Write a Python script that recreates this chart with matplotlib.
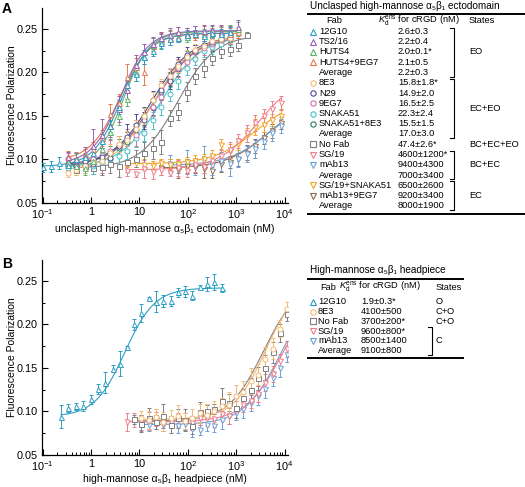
import numpy as np
import matplotlib
matplotlib.use('Agg')
import matplotlib.pyplot as plt
from matplotlib.lines import Line2D
from matplotlib.ticker import FixedLocator, FixedFormatter, MultipleLocator, FormatStrFormatter, NullFormatter

plt.rcParams['font.family'] = ['Liberation Sans', 'DejaVu Sans']
plt.rcParams['mathtext.fontset'] = 'custom'
plt.rcParams['mathtext.rm'] = 'Liberation Sans'
plt.rcParams['mathtext.it'] = 'Liberation Sans:italic'
plt.rcParams['mathtext.bf'] = 'Liberation Sans:bold'

# ---------------- data, panel A (ectodomain) ----------------
conc_a = [0.1, 0.15, 0.22, 0.33, 0.5, 0.74, 1.1, 1.7, 2.5, 3.7, 5.6, 8.4, 12.6, 19, 28, 42,
          64, 96, 144, 216, 324, 486, 730, 1090, 1640, 2460, 3690, 5540, 8300]

a_12g10 = [0.091, 0.092, 0.096, 0.094, 0.101, 0.103, 0.108, 0.121, 0.138, 0.160, 0.186, 0.198,
           0.218, 0.225, 0.234, 0.238, 0.240, 0.243, 0.244, 0.242, 0.245, 0.244, 0.246]
a_12g10_err = [0.005, 0.006, 0.007, 0.005, 0.006, 0.005, 0.006, 0.008, 0.007, 0.008, 0.009, 0.008,
               0.008, 0.006, 0.007, 0.006, 0.005, 0.006, 0.005, 0.006, 0.005, 0.006, 0.006]
a_ts216 = [0.103, 0.099, 0.104, 0.115, 0.128, 0.138, 0.158, 0.180, 0.208, 0.224, 0.233, 0.240,
           0.243, 0.246, 0.244, 0.247, 0.248, 0.249, 0.247, 0.246, 0.252]
a_ts216_err = [0.006, 0.008, 0.010, 0.020, 0.018, 0.012, 0.015, 0.010, 0.012, 0.009, 0.008, 0.007,
               0.008, 0.006, 0.007, 0.006, 0.007, 0.006, 0.008, 0.007, 0.008]
a_huts4 = [0.097, 0.093, 0.090, 0.098, 0.112, 0.132, 0.150, 0.170, 0.200, 0.218, 0.232, 0.236,
           0.243, 0.245, 0.241, 0.246, 0.244, 0.247, 0.245, 0.248, 0.250]
a_huts4_err = [0.006, 0.007, 0.008, 0.007, 0.008, 0.009, 0.010, 0.009, 0.010, 0.008, 0.007, 0.008,
               0.006, 0.007, 0.006, 0.007, 0.006, 0.006, 0.007, 0.006, 0.008]
a_huts4_9eg7 = [0.104, 0.102, 0.106, 0.112, 0.125, 0.152, 0.165, 0.195, 0.206, 0.200, 0.230, 0.238,
                0.240, 0.241, 0.244, 0.243, 0.246, 0.245, 0.247, 0.244, 0.246]
a_huts4_9eg7_err = [0.006, 0.007, 0.006, 0.008, 0.009, 0.012, 0.010, 0.015, 0.011, 0.014, 0.009, 0.007,
                    0.008, 0.006, 0.007, 0.006, 0.007, 0.006, 0.006, 0.007, 0.006]
a_8e3 = [0.085, 0.088, 0.092, 0.097, 0.098, 0.108, 0.118, 0.122, 0.135, 0.150, 0.168, 0.185,
         0.196, 0.207, 0.218, 0.226, 0.230, 0.236, 0.238, 0.240]
a_8e3_err = [0.005, 0.006, 0.008, 0.007, 0.009, 0.010, 0.009, 0.011, 0.010, 0.009, 0.010, 0.008,
             0.009, 0.007, 0.008, 0.007, 0.006, 0.007, 0.006, 0.006]
a_n29 = [0.095, 0.093, 0.098, 0.095, 0.103, 0.102, 0.115, 0.126, 0.140, 0.145, 0.168, 0.180,
         0.190, 0.210, 0.220, 0.225, 0.232, 0.235, 0.238, 0.241]
a_n29_err = [0.006, 0.007, 0.006, 0.008, 0.010, 0.009, 0.012, 0.015, 0.012, 0.010, 0.011, 0.010,
             0.009, 0.008, 0.009, 0.007, 0.008, 0.006, 0.007, 0.006]
a_9eg7 = [0.100, 0.092, 0.097, 0.101, 0.105, 0.110, 0.116, 0.125, 0.128, 0.148, 0.160, 0.172,
          0.195, 0.205, 0.212, 0.224, 0.228, 0.233, 0.237, 0.240]
a_9eg7_err = [0.007, 0.006, 0.008, 0.009, 0.020, 0.012, 0.011, 0.010, 0.013, 0.011, 0.010, 0.012,
              0.009, 0.010, 0.008, 0.007, 0.008, 0.007, 0.006, 0.007]
a_snaka51 = [0.090, 0.092, 0.095, 0.093, 0.097, 0.101, 0.104, 0.110, 0.125, 0.130, 0.145, 0.160,
             0.175, 0.190, 0.205, 0.215, 0.225, 0.229, 0.233, 0.238]
a_snaka51_err = [0.006, 0.008, 0.007, 0.010, 0.008, 0.009, 0.012, 0.010, 0.011, 0.009, 0.010, 0.009,
                 0.008, 0.009, 0.008, 0.007, 0.007, 0.008, 0.006, 0.007]
a_snaka51_8e3 = [0.093, 0.096, 0.094, 0.099, 0.101, 0.107, 0.113, 0.120, 0.134, 0.150, 0.160, 0.178,
                 0.192, 0.205, 0.218, 0.224, 0.230, 0.232, 0.236, 0.239]
a_snaka51_8e3_err = [0.005, 0.006, 0.007, 0.006, 0.008, 0.009, 0.010, 0.012, 0.011, 0.010, 0.009, 0.010,
                     0.008, 0.009, 0.007, 0.008, 0.006, 0.007, 0.006, 0.006]
a_nofab = [0.088, 0.093, 0.090, 0.091, 0.095, 0.092, 0.097, 0.101, 0.108, 0.113, 0.120, 0.148,
           0.155, 0.178, 0.196, 0.205, 0.216, 0.225, 0.227, 0.232, 0.243]
a_nofab_err = [0.006, 0.008, 0.007, 0.009, 0.010, 0.012, 0.011, 0.010, 0.012, 0.013, 0.014, 0.009,
               0.010, 0.011, 0.009, 0.010, 0.008, 0.009, 0.008, 0.007, 0.003]
a_sg19 = [0.087, 0.083, 0.089, 0.086, 0.088, 0.085, 0.090, 0.087, 0.094, 0.091, 0.098, 0.104,
          0.111, 0.121, 0.130, 0.142, 0.150, 0.158, 0.165]
a_sg19_err = [0.006, 0.003, 0.010, 0.008, 0.006, 0.004, 0.009, 0.007, 0.008, 0.006, 0.007, 0.008,
              0.009, 0.008, 0.010, 0.009, 0.008, 0.009, 0.008]
a_sg19_snaka = [0.095, 0.096, 0.094, 0.093, 0.096, 0.094, 0.095, 0.097, 0.098, 0.100, 0.104, 0.117,
                0.110, 0.118, 0.128, 0.137, 0.140, 0.145, 0.150]
a_sg19_snaka_err = [0.004, 0.005, 0.006, 0.005, 0.004, 0.006, 0.005, 0.006, 0.007, 0.006, 0.007, 0.006,
                    0.008, 0.007, 0.008, 0.009, 0.008, 0.007, 0.008]
a_mab13 = [0.095, 0.093, 0.097, 0.092, 0.100, 0.094, 0.098, 0.095, 0.101, 0.106, 0.112, 0.120,
           0.130, 0.138]
a_mab13_err = [0.010, 0.008, 0.014, 0.010, 0.015, 0.012, 0.011, 0.014, 0.010, 0.009, 0.010, 0.008,
               0.009, 0.008]
a_mab13_9eg7 = [0.090, 0.094, 0.088, 0.093, 0.091, 0.089, 0.087, 0.095, 0.097, 0.100, 0.108, 0.116,
                0.125, 0.133, 0.142]
a_mab13_9eg7_err = [0.008, 0.007, 0.009, 0.008, 0.007, 0.010, 0.008, 0.009, 0.007, 0.008, 0.009, 0.008,
                    0.007, 0.008, 0.007]

# fitted curves: bottom, top, K, Hill slope
fit_a = {
    '12G10': (0.092, 0.245, 4.2, 1.5), 'TS2/16': (0.095, 0.248, 4.0, 1.5),
    'HUTS4': (0.090, 0.247, 4.6, 1.6), 'HUTS4+9EG7': (0.098, 0.245, 4.0, 1.4),
    '8E3': (0.087, 0.242, 19, 1.05), 'N29': (0.092, 0.242, 18, 1.05),
    '9EG7': (0.093, 0.242, 21, 1.0), 'SNAKA51': (0.091, 0.242, 28, 1.05),
    'SNAKA51+8E3': (0.092, 0.241, 20, 1.05), 'No Fab': (0.090, 0.243, 62, 1.13),
    'SG/19': (0.088, 0.20, 3000, 1.0), 'SG/19+SNAKA51': (0.095, 0.17, 2500, 1.0),
    'mAb13': (0.093, 0.17, 5000, 1.0), 'mAb13+9EG7': (0.090, 0.17, 4500, 1.0),
}

# ---------------- data, panel B (headpiece) ----------------
conc_b = [0.24, 0.34, 0.49, 0.69, 0.98, 1.4, 1.95, 2.8, 3.9, 5.5, 7.8, 11, 15.6, 22, 31, 44, 62,
          88, 125, 177, 250, 354, 500, 707, 1000, 1410, 2000, 2830, 4000, 5660, 8000, 11300]

b_12g10 = [0.094, 0.104, 0.106, 0.106, 0.114, 0.126, 0.133, 0.149, 0.155, 0.174, 0.200, 0.213,
           0.230, 0.226, 0.227, 0.227, 0.237, 0.238, 0.233, 0.243, 0.246, 0.249, 0.242]
b_12g10_err = [0.013, 0.005, 0.004, 0.006, 0.005, 0.006, 0.012, 0.004, 0.014, 0.001, 0.006, 0.010,
               0.001, 0.012, 0.007, 0.006, 0.005, 0.006, 0.005, 0.002, 0.008, 0.009, 0.005]
b_8e3 = [0.093, 0.090, 0.094, 0.088, 0.092, 0.095, 0.089, 0.093, 0.098, 0.096, 0.100, 0.106,
         0.108, 0.118, 0.122, 0.135, 0.142, 0.160, 0.172, 0.195, 0.218]
b_8e3_err = [0.008, 0.010, 0.009, 0.011, 0.010, 0.012, 0.009, 0.010, 0.011, 0.013, 0.012, 0.010,
             0.014, 0.012, 0.013, 0.015, 0.012, 0.014, 0.012, 0.010, 0.008]
b_nofab = [0.091, 0.086, 0.092, 0.088, 0.095, 0.085, 0.092, 0.090, 0.083, 0.099, 0.100, 0.103,
           0.112, 0.110, 0.104, 0.115, 0.125, 0.138, 0.150, 0.168, 0.190, 0.212]
b_nofab_err = [0.005, 0.010, 0.012, 0.008, 0.014, 0.010, 0.011, 0.013, 0.009, 0.012, 0.008, 0.006,
               0.015, 0.010, 0.012, 0.011, 0.014, 0.013, 0.015, 0.012, 0.010, 0.008]
b_sg19 = [0.088, 0.090, 0.087, 0.089, 0.091, 0.086, 0.088, 0.090, 0.089, 0.087, 0.092, 0.093,
          0.091, 0.097, 0.095, 0.102, 0.108, 0.112, 0.120, 0.133, 0.143, 0.158, 0.172]
b_sg19_err = [0.010, 0.008, 0.009, 0.010, 0.008, 0.009, 0.007, 0.008, 0.009, 0.008, 0.007, 0.008,
              0.009, 0.008, 0.009, 0.010, 0.009, 0.008, 0.009, 0.010, 0.009, 0.008, 0.009]
b_mab13 = [0.086, 0.084, 0.088, 0.085, 0.087, 0.083, 0.086, 0.080, 0.079, 0.085, 0.083, 0.090,
           0.095, 0.098, 0.103, 0.110, 0.118, 0.126, 0.138, 0.150, 0.165]
b_mab13_err = [0.007, 0.006, 0.008, 0.007, 0.006, 0.008, 0.007, 0.009, 0.006, 0.008, 0.007, 0.010,
               0.009, 0.008, 0.010, 0.009, 0.011, 0.010, 0.009, 0.010, 0.008]

fit_b = {
    '12G10': (0.094, 0.242, 5.0, 1.4), '8E3': (0.091, 0.25, 4100, 1.3),
    'No Fab': (0.089, 0.25, 3700, 1.2), 'SG/19': (0.088, 0.25, 9600, 1.1),
    'mAb13': (0.085, 0.25, 8500, 1.15),
}

colors = {
    '12G10': '#2b9ec4', 'TS2/16': '#9b5fb0', 'HUTS4': '#5db56a', 'HUTS4+9EG7': '#e8774d',
    '8E3': '#f5b971', 'N29': '#4a4891', '9EG7': '#cf6fae', 'SNAKA51': '#45c1c6',
    'SNAKA51+8E3': '#2f7a5c', 'No Fab': '#7f7f7f', 'SG/19': '#f07d8c', 'mAb13': '#6d9fd6',
    'SG/19+SNAKA51': '#f2a426', 'mAb13+9EG7': '#8a6a4e',
}
markers = {
    '12G10': '^', 'TS2/16': '^', 'HUTS4': '^', 'HUTS4+9EG7': '^',
    '8E3': 'o', 'N29': 'o', '9EG7': 'o', 'SNAKA51': 'o', 'SNAKA51+8E3': 'o',
    'No Fab': 's', 'SG/19': 'v', 'mAb13': 'v', 'SG/19+SNAKA51': 'v', 'mAb13+9EG7': 'v',
}

# (name, first concentration index, values, errors)
series_a = [
    ('mAb13+9EG7', 14, a_mab13_9eg7, a_mab13_9eg7_err), ('mAb13', 15, a_mab13, a_mab13_err),
    ('SG/19+SNAKA51', 10, a_sg19_snaka, a_sg19_snaka_err), ('SG/19', 10, a_sg19, a_sg19_err),
    ('No Fab', 4, a_nofab, a_nofab_err),
    ('SNAKA51+8E3', 3, a_snaka51_8e3, a_snaka51_8e3_err), ('SNAKA51', 3, a_snaka51, a_snaka51_err),
    ('9EG7', 3, a_9eg7, a_9eg7_err), ('N29', 3, a_n29, a_n29_err), ('8E3', 3, a_8e3, a_8e3_err),
    ('HUTS4+9EG7', 3, a_huts4_9eg7, a_huts4_9eg7_err), ('HUTS4', 3, a_huts4, a_huts4_err),
    ('TS2/16', 3, a_ts216, a_ts216_err), ('12G10', 0, a_12g10, a_12g10_err),
]
series_b = [
    ('mAb13', 11, b_mab13, b_mab13_err), ('SG/19', 9, b_sg19, b_sg19_err),
    ('No Fab', 10, b_nofab, b_nofab_err), ('8E3', 11, b_8e3, b_8e3_err),
    ('12G10', 0, b_12g10, b_12g10_err),
]

# table contents
tab_a_names = ['12G10', 'TS2/16', 'HUTS4', 'HUTS4+9EG7', 'Average', '8E3', 'N29', '9EG7', 'SNAKA51',
               'SNAKA51+8E3', 'Average', 'No Fab', 'SG/19', 'mAb13', 'Average', 'SG/19+SNAKA51',
               'mAb13+9EG7', 'Average']
tab_a_kd = ['2.6±0.3', '2.2±0.4', '2.0±0.1*', '2.1±0.5', '2.2±0.3', '15.8±1.8*', '14.9±2.0',
            '16.5±2.5', '22.3±2.4', '15.5±1.5', '17.0±3.0', '47.4±2.6*', '4600±1200*', '9400±4300',
            '7000±3400', '6500±2600', '9200±3400', '8000±1900']
tab_a_states = [(0, 4, 'EO', True), (5, 10, 'EC+EO', True), (11, 11, 'BC+EC+EO', False),
                (12, 14, 'BC+EC', True), (15, 17, 'EC', True)]
tab_b_names = ['12G10', '8E3', 'No Fab', 'SG/19', 'mAb13', 'Average']
tab_b_kd = ['1.9±0.3*', '4100±500', '3700±200*', '9600±800*', '8500±1400', '9100±800']
tab_b_states = [(0, 0, 'O', False), (1, 1, 'C+O', False), (2, 2, 'C+O', False), (3, 5, 'C', True)]

W, H = 525, 487
FS_AX = 7.5
FS_TAB = 6.7


def fx(px):
    return px / W


def fy(py):
    return 1 - py / H


def hill(x, bottom, top, k, n):
    return bottom + (top - bottom) / (1 + (k / x) ** n)


def style_axes(ax, xlabel, xlabel_y):
    ax.set_xscale('log')
    ax.set_xlim(0.097, 11800)
    ax.set_ylim(0.05, 0.274)
    for s in ['top', 'right']:
        ax.spines[s].set_visible(False)
    for s in ['left', 'bottom']:
        ax.spines[s].set_linewidth(0.9)
    ax.xaxis.set_major_locator(FixedLocator([0.1, 1, 10, 100, 1000, 10000]))
    ax.xaxis.set_major_formatter(FixedFormatter(['$10^{-1}$', '1', '10', '$10^{2}$', '$10^{3}$', '$10^{4}$']))
    minors = [m * 10.0 ** d for d in range(-1, 4) for m in range(2, 10)]
    ax.xaxis.set_minor_locator(FixedLocator(minors))
    ax.xaxis.set_minor_formatter(NullFormatter())
    ax.yaxis.set_major_locator(MultipleLocator(0.05))
    ax.yaxis.set_minor_locator(MultipleLocator(0.025))
    ax.yaxis.set_major_formatter(FormatStrFormatter('%.2f'))
    ax.tick_params(which='major', direction='in', length=4, width=0.8, labelsize=FS_AX + 0.3, pad=3)
    ax.tick_params(which='minor', direction='in', length=2.2, width=0.7)
    ax.set_ylabel('Fluorescence Polarization', fontsize=FS_AX)
    ax.set_xlabel(xlabel, fontsize=FS_AX)
    ax.yaxis.set_label_coords(-0.1, 0.5)
    ax.xaxis.set_label_coords(0.5, xlabel_y)


def draw_series(ax, conc, series, fits):
    for name, start, y, err in series:
        x = conc[start:start + len(y)]
        c = colors[name]
        xx = np.logspace(np.log10(x[0]), np.log10(x[-1]), 200)
        ax.plot(xx, hill(xx, *fits[name]), color=c, lw=0.8, zorder=2)
        ax.errorbar(x, y, yerr=err, fmt=markers[name], ms=3.6, mfc='white', mec=c, mew=0.7,
                    ecolor=c, elinewidth=0.7, capsize=1.5, capthick=0.7, zorder=3)


def draw_table(fig, title, x0, x1, y_title, y_rule, y_head, rows_y, y_bottom, names, kds,
               states, x_mark, x_name, x_fab, x_kdhead, x_kd, x_state, x_bracket):
    fig.text(fx(x0 + 2), fy(y_title), title, fontsize=FS_TAB + 0.5, va='center', ha='left')
    fig.add_artist(Line2D([fx(x0), fx(x1)], [fy(y_rule)] * 2, color='black', lw=1.4))
    fig.text(fx(x_fab), fy(y_head), 'Fab', fontsize=FS_TAB, va='center')
    fig.text(fx(x_kdhead), fy(y_head), r'$K_\mathrm{d}^\mathrm{ens}$ for cRGD (nM)', fontsize=FS_TAB, va='center')
    fig.text(fx(x_state), fy(y_head), 'States', fontsize=FS_TAB, va='center')
    for name, kd, yy in zip(names, kds, rows_y):
        if name in markers:
            fig.add_artist(Line2D([fx(x_mark)], [fy(yy)], marker=markers[name], ms=3.8, mfc='white',
                                  mec=colors[name], mew=0.8, transform=fig.transFigure))
        fig.text(fx(x_name), fy(yy), name, fontsize=FS_TAB, va='center')
        fig.text(fx(x_kd), fy(yy), kd, fontsize=FS_TAB, va='center')
    for r0, r1, label, bracket in states:
        ya, yb = rows_y[r0], rows_y[r1]
        fig.text(fx(x_state), fy((ya + yb) / 2), label, fontsize=FS_TAB, va='center')
        if bracket:
            top, bot = ya - 4, yb + 4
            fig.add_artist(Line2D([fx(x_bracket - 4), fx(x_bracket), fx(x_bracket), fx(x_bracket - 4)],
                                  [fy(top), fy(top), fy(bot), fy(bot)], color='black', lw=0.8))
    fig.add_artist(Line2D([fx(x0), fx(x1)], [fy(y_bottom)] * 2, color='black', lw=1.4))


fig = plt.figure(figsize=(W / 100, H / 100), dpi=100)

ax_a = fig.add_axes([fx(42), fy(203), fx(288) - fx(42), fy(8) - fy(203)])
draw_series(ax_a, conc_a, series_a, fit_a)
style_axes(ax_a, 'unclasped high-mannose α₅β₁ ectodomain (nM)', -0.11)

ax_b = fig.add_axes([fx(42), fy(455), fx(288) - fx(42), fy(260) - fy(455)])
draw_series(ax_b, conc_b, series_b, fit_b)
style_axes(ax_b, 'high-mannose α₅β₁ headpiece (nM)', -0.1)

fig.text(fx(2), fy(9), 'A', fontsize=10, fontweight='bold', va='center')
fig.text(fx(2), fy(264), 'B', fontsize=10, fontweight='bold', va='center')

rows_a = [31.5 + 10.25 * i for i in range(len(tab_a_names))]
draw_table(fig, 'Unclasped high-mannose α₅β₁ ectodomain', 308, 525, 6, 14, 20.5, rows_a, 214,
           tab_a_names, tab_a_kd, tab_a_states, 313, 319, 326, 378, 398, 469, 454)

rows_b = [302 + 9.7 * i for i in range(len(tab_b_names))]
draw_table(fig, 'High-mannose α₅β₁ headpiece', 308, 463, 270, 279, 287, rows_b, 358,
           tab_b_names, tab_b_kd, tab_b_states, 313, 318, 320, 339, 361, 436, 432)

fig.savefig('out.png', dpi=100)
